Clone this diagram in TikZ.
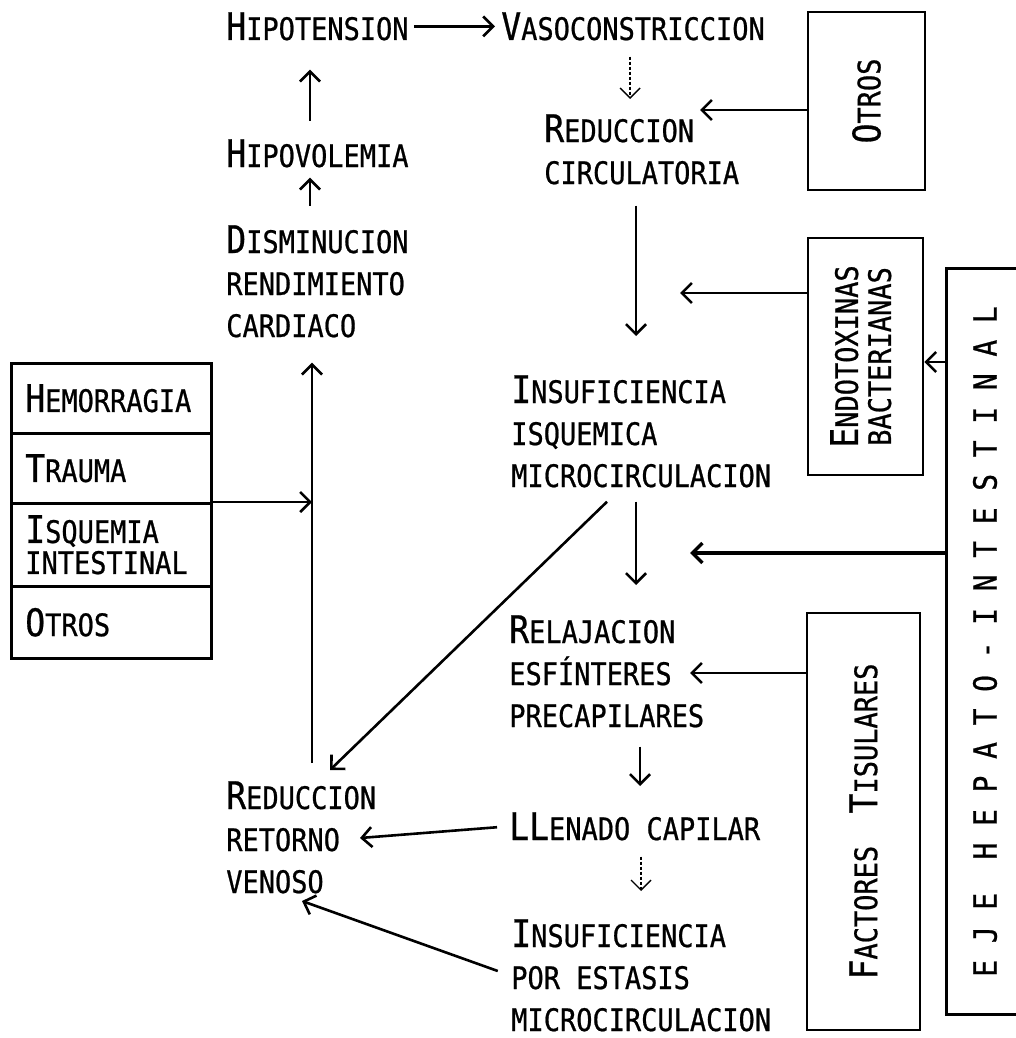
\documentclass[tikz,border=0pt]{standalone}
\usepackage{fontspec}
\newfontfamily\mono[FakeStretch=0.87,FakeBold=0.7]{DejaVu Sans Mono}
\usetikzlibrary{arrows.meta}
\newcommand\Bg[1]{{\fontsize{38pt}{42pt}\selectfont #1}}
\begin{document}
\begin{tikzpicture}[x=1pt,y=-1pt,line width=2.6pt,
  arr/.style={-{Straight Barb[length=10pt,width=20pt]}},
  faint/.style={line width=1.4pt,dash pattern=on 3pt off 2pt},
  txt/.style={font=\mono\fontsize{31pt}{42pt}\selectfont,inner sep=0pt,anchor=base west,align=left},
  cell/.style={draw,font=\mono\fontsize{31pt}{31pt}\selectfont,minimum width=200pt,minimum height=70pt,
    anchor=north west,align=left,text width=172pt,inner xsep=14pt,inner ysep=0pt},
  sbox/.style={draw,font=\mono\fontsize{31pt}{33pt}\selectfont,inner sep=0pt}]
\useasboundingbox (0,0) rectangle (1015,1038);
% left stack
\node[cell] (hem) at (10,362) {\Bg{H}EMORRAGIA};
\node[cell] (tra) at (10,432) {\Bg{T}RAUMA};
\node[cell,minimum height=83pt] (isq) at (10,502) {\Bg{I}SQUEMIA\\INTESTINAL};
\node[cell,minimum height=72pt] (otr) at (10,585) {\Bg{O}TROS};
% right boxes
\node[sbox,minimum width=117pt,minimum height=178pt] (otros2) at (866.5,101) {\rotatebox{90}{\Bg{O}TROS}};
\node[sbox,minimum width=115pt,minimum height=237pt] (endo) at (865.5,356.5)
  {\rotatebox{90}{\begin{tabular}{@{}c@{}}\Bg{E}NDOTOXINAS\\BACTERIANAS\end{tabular}}};
\node[sbox,minimum width=113pt,minimum height=417pt] (fact) at (863.5,821.5)
  {\rotatebox{90}{\Bg{F}ACTORES~~\Bg{T}ISULARES}};
\node[inner sep=0pt,minimum width=74pt,minimum height=743pt,font=\mono\fontsize{32pt}{33pt}\selectfont] (eje) at (985,641.5)
  {\rotatebox{90}{E~J~E~~H~E~P~A~T~O~-~I~N~T~E~S~T~I~N~A~L}};
\draw (eje.north east) -- (eje.north west) -- (eje.south west) -- (eje.south east);
% text nodes (base = baseline of last line)
\node[txt] (hipot) at (225,40) {\Bg{H}IPOTENSION};
\node[txt] (vaso) at (500,40) {\Bg{V}ASOCONSTRICCION};
\node[txt] (redc) at (543,184) {\Bg{R}EDUCCION\\CIRCULATORIA};
\node[txt] (hipov) at (225,167) {\Bg{H}IPOVOLEMIA};
\node[txt] (dism) at (225,337) {\Bg{D}ISMINUCION\\RENDIMIENTO\\CARDIACO};
\node[txt] (insuf1) at (510,487) {\Bg{I}NSUFICIENCIA\\ISQUEMICA\\MICROCIRCULACION};
\node[txt] (relaj) at (508,727) {\Bg{R}ELAJACION\\ESFÍNTERES\\PRECAPILARES};
\node[txt] (llen) at (508,840) {\Bg{L}\Bg{L}ENADO CAPILAR};
\node[txt] (insuf2) at (510,1031) {\Bg{I}NSUFICIENCIA\\POR ESTASIS\\MICROCIRCULACION};
\node[txt] (reduc) at (225,893) {\Bg{R}EDUCCION\\RETORNO\\VENOSO};
% helper coordinates
\coordinate (vl) at ([xshift=87pt]reduc.north west);
\coordinate (e0) at (700,110);
\coordinate (e1) at (680,293);
\coordinate (h1) at (935,362);
\coordinate (e2) at (690,553);
\coordinate (e3) at (690,673);
\coordinate (r1) at (360,838);
\coordinate (r2) at (302,901);
% connectors
\draw[arr,shorten <=4pt,shorten >=5pt] (hipot.east) -- (vaso.west);
\draw[arr,shorten <=17pt,shorten >=28pt] ([xshift=85pt]hipov.north west) -- ([xshift=85pt]hipot.south west);
\draw[arr,shorten <=18pt,shorten >=9pt] ([xshift=85pt]dism.north west) -- ([xshift=85pt]hipov.south west);
\draw[arr,shorten <=17pt,shorten >=24pt] (vl) -- (vl |- dism.south);
\draw[arr] (isq.north east) -- (isq.north east -| vl);
\draw[arr,faint,shorten <=15pt,shorten >=14pt] ([xshift=-3pt]vaso.south) -- ([xshift=-3pt]vaso.south |- redc.north);
\draw[arr] (otros2.west |- e0) -- (e0);
\draw[arr,shorten <=20pt,shorten >=38pt] ([xshift=93pt]redc.south west) -- ([xshift=93pt]redc.south west |- insuf1.north);
\draw[arr] (endo.west |- e1) -- (e1);
\draw[arr] (eje.west |- h1) -- (endo.east |- h1);
\draw[arr,shorten <=13pt,shorten >=29pt] ([xshift=126pt]insuf1.south west) -- ([xshift=126pt]insuf1.south west |- relaj.north);
\draw[arr,line width=3.4pt] (eje.west |- e2) -- (e2);
\draw[arr] (fact.west |- e3) -- (e3);
\draw[arr] ([xshift=97pt,yshift=-13pt]insuf1.south west) -- ([xshift=105pt,yshift=10pt]reduc.north west);
\draw[arr,shorten <=18pt,shorten >=25pt] ([xshift=132pt]relaj.south west) -- ([xshift=132pt]relaj.south west |- llen.north);
\draw[arr,shorten <=11pt] (llen.west) -- (r1);
\draw[arr,faint,shorten <=15pt,shorten >=27pt] ([xshift=133pt]llen.south west) -- ([xshift=133pt]llen.south west |- insuf2.north);
\draw[arr,shorten <=13pt] (insuf2.west) -- (r2);
\end{tikzpicture}
\end{document}
